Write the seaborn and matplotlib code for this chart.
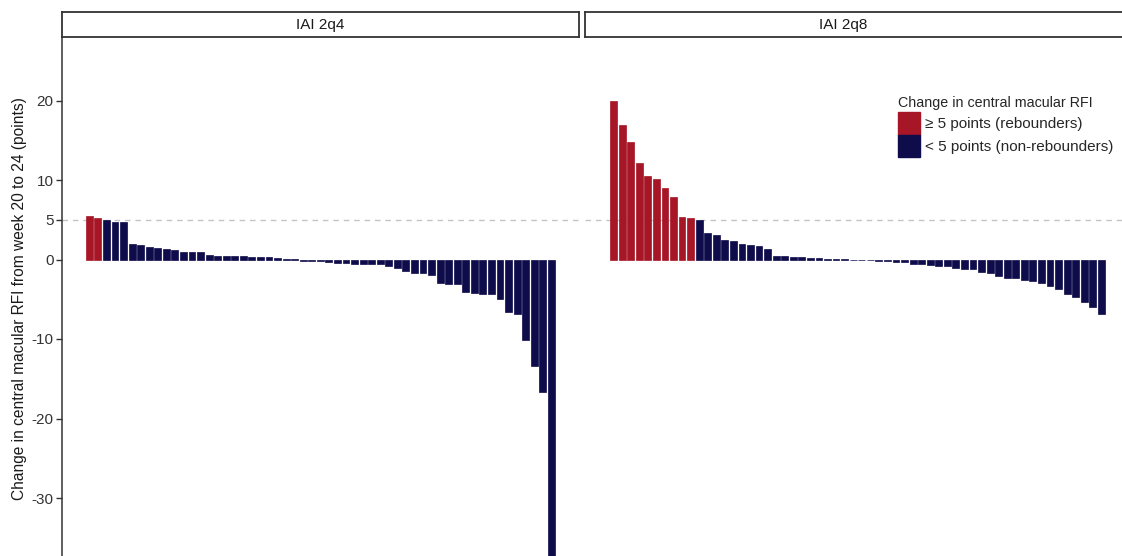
import numpy as np
import pandas as pd
import matplotlib
matplotlib.use("Agg")
import matplotlib.pyplot as plt
import seaborn as sns
from matplotlib.patches import Patch

# ---------------- data ----------------
panels = ["IAI 2q4", "IAI 2q8"]
values_2q4 = [5.5, 5.2, 4.95, 4.7, 4.7, 1.9, 1.85, 1.6, 1.4, 1.3,
              1.2, 1.0, 0.9, 0.9, 0.6, 0.5, 0.45, 0.4, 0.4, 0.35,
              0.3, 0.3, 0.15, 0.1, 0.1, -0.15, -0.2, -0.25, -0.35, -0.4,
              -0.45, -0.6, -0.6, -0.6, -0.6, -0.85, -1.1, -1.4, -1.75, -1.75,
              -2.0, -3.0, -3.05, -3.1, -4.05, -4.25, -4.3, -4.35, -4.95, -6.6,
              -6.8, -10.1, -13.4, -16.7, -38.0]
values_2q8 = [19.9, 16.9, 14.8, 12.2, 10.5, 10.1, 9.0, 7.8, 5.4, 5.2,
              4.95, 3.3, 3.05, 2.45, 2.3, 2.0, 1.87, 1.7, 1.35, 0.45,
              0.4, 0.35, 0.27, 0.15, 0.15, 0.1, 0.06, 0.05, -0.05, -0.05,
              -0.08, -0.15, -0.2, -0.27, -0.36, -0.57, -0.6, -0.7, -0.82, -0.85,
              -1.07, -1.2, -1.22, -1.6, -1.74, -2.07, -2.3, -2.32, -2.6, -2.7,
              -2.96, -3.33, -3.7, -4.3, -4.7, -5.3, -6.0, -6.8]
threshold = 5
yticks = [20, 10, 5, 0, -10, -20, -30]
group_labels = ["\u2265 5 points (rebounders)", "< 5 points (non-rebounders)"]
group_colors = ["#A61626", "#0F0C4B"]
legend_title = "Change in central macular RFI"
ylabel = "Change in central macular RFI from week 20 to 24 (points)"

# ---------------- style ----------------
sns.set_theme(style="white")
plt.rcParams["font.family"] = ["Liberation Sans", "DejaVu Sans"]

W, H = 1122, 556
fig = plt.figure(figsize=(W / 100, H / 100), dpi=100)

zero_px = 259.5
unit_px = 7.95
top_px = 37
ylim = (-(H - zero_px) / unit_px, (zero_px - top_px) / unit_px)

pitch_px = 8.556
left_px = [62, 585]
series = [values_2q4, values_2q8]
for i, (name, vals) in enumerate(zip(panels, series)):
    n = len(vals)
    span = n - 0.1
    width_px = span * 1.1 * pitch_px
    ax = fig.add_axes([left_px[i] / W, 0, width_px / W, (H - top_px) / H])
    df = pd.DataFrame({
        "rank": np.arange(n),
        "value": vals,
        "group": [group_labels[0] if v >= threshold else group_labels[1] for v in vals],
    })
    sns.barplot(data=df, x="rank", y="value", hue="group", hue_order=group_labels,
                palette=group_colors, dodge=False, width=0.8, saturation=1,
                legend=False, ax=ax, zorder=3)
    for p in ax.patches:
        p.set_edgecolor(p.get_facecolor())
        p.set_linewidth(0.5)
    pad = 0.05 * span
    ax.set_xlim(-0.45 - pad, n - 1 + 0.45 + pad)
    ax.set_ylim(*ylim)
    ax.axhline(threshold, color="#C4C4C4", lw=1.0, ls=(0, (4, 3.5)), zorder=1)
    ax.set_xlabel("")
    ax.set_ylabel("")
    ax.set_xticks([])
    for s in ["top", "right", "bottom"]:
        ax.spines[s].set_visible(False)
    if i == 0:
        ax.spines["left"].set_color("#333333")
        ax.spines["left"].set_linewidth(1.1)
        ax.set_yticks(yticks)
        ax.set_yticklabels([str(t) for t in yticks])
        ax.tick_params(axis="y", length=4, width=1, pad=2, labelsize=11,
                       colors="#333333", labelcolor="#333333", left=True)
    else:
        ax.spines["left"].set_visible(False)
        ax.set_yticks([])
    ax.set_facecolor("white")
    # strip
    sax = fig.add_axes([left_px[i] / W, 1 - top_px / H, width_px / W, 25 / H])
    sax.set_xticks([]); sax.set_yticks([])
    for s in sax.spines.values():
        s.set_color("#333333"); s.set_linewidth(1.3); s.set_visible(True)
    sax.set_facecolor("white")
    # label centred on the visible (516 px) part of the strip
    sax.text(258 / width_px, 0.5, name, ha="center", va="center", fontsize=11,
             color="#1a1a1a", transform=sax.transAxes)

fig.text(20 / W, 1 - 299 / H, ylabel, rotation=90, ha="center", va="center",
         fontsize=11.2, color="#1a1a1a")

handles = [Patch(facecolor=c, edgecolor=c) for c in group_colors]
leg = fig.legend(handles, group_labels, title=legend_title, loc="upper left",
                 bbox_to_anchor=(898 / W, 1 - 96 / H), frameon=False,
                 fontsize=11, title_fontsize=10.3, handlelength=1.44, handleheight=1.85,
                 labelspacing=0, handletextpad=0.35, borderpad=0, borderaxespad=0,
                 alignment="left")
leg._legend_box.sep = 1.8

fig.savefig("out.png", dpi=100)
